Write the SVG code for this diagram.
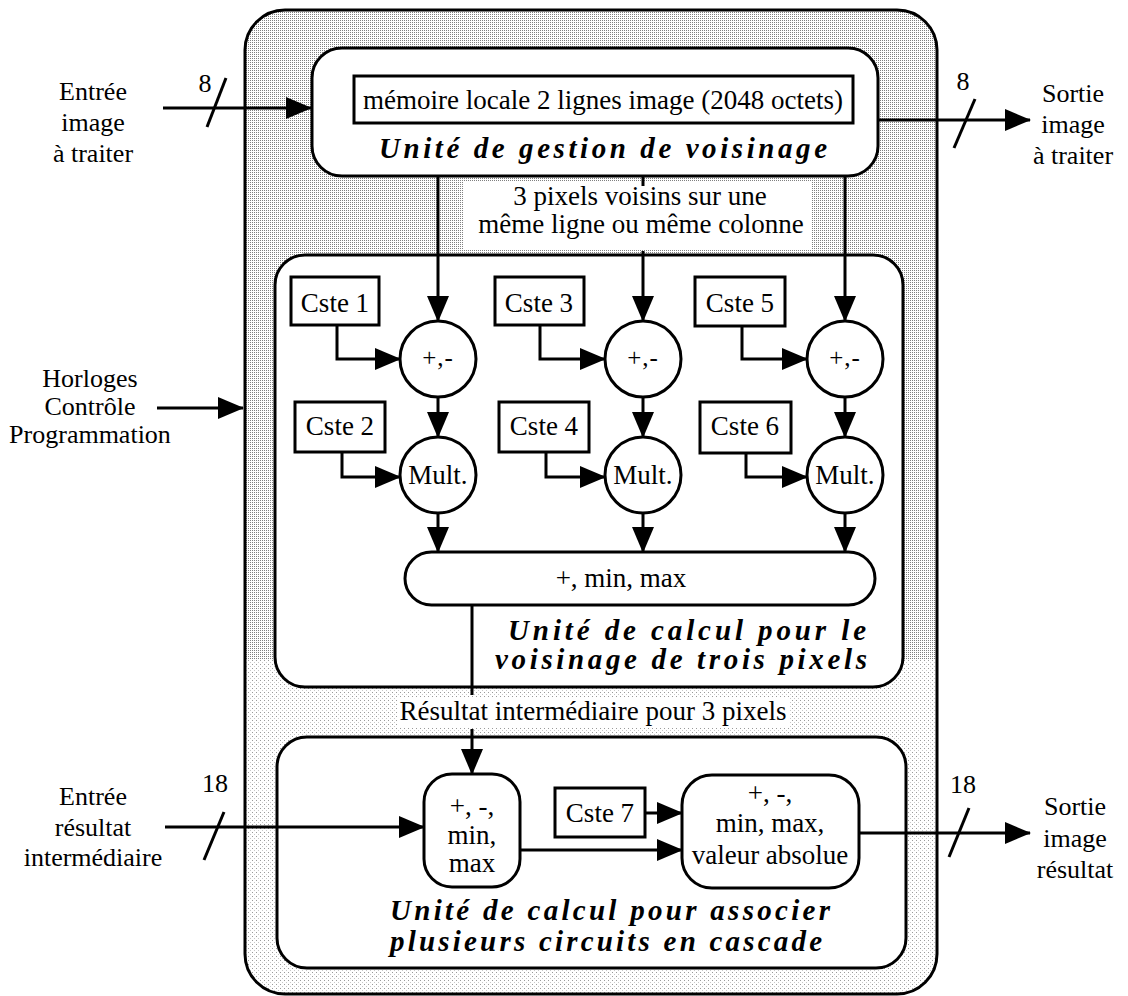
<svg xmlns="http://www.w3.org/2000/svg" width="1128" height="996" viewBox="0 0 1128 996">
<style>
  text { font-family: "Liberation Serif", "Times New Roman", serif; fill: #000; }
  .lbl { font-size: 26px; text-anchor: middle; }
  .body { font-size: 27px; text-anchor: middle; }
  .title { font-size: 29px; font-weight: bold; font-style: italic; }
  .box { fill: #fff; stroke: #000; stroke-width: 3; }
  .node { fill: #fff; stroke: #000; stroke-width: 3; }
  .wire { fill: none; stroke: #000; stroke-width: 3; }
  .arr { fill: none; stroke: #000; stroke-width: 3; marker-end: url(#ah); }
</style>
<defs>
  <marker id="ah" viewBox="0 0 26 22" markerUnits="userSpaceOnUse" markerWidth="26" markerHeight="22" refX="25" refY="11" orient="auto">
    <path d="M0,0 L26,11 L0,22 z" fill="#000"/>
  </marker>
  <pattern id="dense" width="2" height="2" patternUnits="userSpaceOnUse">
    <rect width="2" height="2" fill="#fff"/>
    <rect width="1" height="1" fill="#808080"/>
  </pattern>
  <pattern id="sparse" width="4" height="4" patternUnits="userSpaceOnUse">
    <rect width="4" height="4" fill="#fff"/>
    <rect width="1" height="1" fill="#9a9a9a"/>
    <rect x="2" y="2" width="1" height="1" fill="#c8c8c8"/>
  </pattern>
  <clipPath id="topclip"><rect x="0" y="0" width="1128" height="660"/></clipPath>
</defs>

<g id="outer">
  <rect x="245" y="10" width="692" height="984" rx="40" fill="url(#sparse)"/>
  <rect x="245" y="10" width="692" height="984" rx="40" fill="url(#dense)" clip-path="url(#topclip)"/>
  <rect x="245" y="10" width="692" height="984" rx="40" fill="none" stroke="#000" stroke-width="3"/>
</g>

<g id="unite-voisinage">
  <rect class="box" x="312" y="48" width="566" height="128" rx="30"/>
  <g id="memoire">
    <rect class="node" x="354" y="76" width="499" height="47"/>
    <text class="body" x="603" y="109">mémoire locale 2 lignes image (2048 octets)</text>
  </g>
  <text class="title" x="379" y="158" textLength="448" lengthAdjust="spacing">Unité de gestion de voisinage</text>
</g>

<rect x="464" y="182" width="348" height="68" fill="#fff"/>
<text class="body" x="640" y="205">3 pixels voisins sur une</text>
<text class="body" x="641" y="233">même ligne ou même colonne</text>

<g id="unite-trois-pixels">
  <rect class="box" x="275" y="255" width="628" height="432" rx="30"/>
  <text class="title" x="508" y="640" textLength="358" lengthAdjust="spacing">Unité de calcul pour le</text>
  <text class="title" x="495" y="669" textLength="372" lengthAdjust="spacing">voisinage de trois pixels</text>
</g>

<g id="cste1"><rect class="node" x="291" y="277" width="88" height="48"/><text class="body" x="335" y="312">Cste 1</text></g>
<g id="cste2"><rect class="node" x="295" y="402" width="90" height="50"/><text class="body" x="340" y="435">Cste 2</text></g>
<g id="cste3"><rect class="node" x="495" y="277" width="89" height="48"/><text class="body" x="539" y="312">Cste 3</text></g>
<g id="cste4"><rect class="node" x="499" y="402" width="90" height="50"/><text class="body" x="544" y="435">Cste 4</text></g>
<g id="cste5"><rect class="node" x="695" y="277" width="90" height="49"/><text class="body" x="740" y="312">Cste 5</text></g>
<g id="cste6"><rect class="node" x="700" y="402" width="91" height="51"/><text class="body" x="745" y="435">Cste 6</text></g>

<g id="addsub1"><circle class="node" cx="438" cy="359" r="38"/><text class="body" x="438" y="366" style="font-size:25px;letter-spacing:1px">+,-</text></g>
<g id="addsub2"><circle class="node" cx="643" cy="359" r="38"/><text class="body" x="643" y="366" style="font-size:25px;letter-spacing:1px">+,-</text></g>
<g id="addsub3"><circle class="node" cx="845" cy="359" r="38"/><text class="body" x="845" y="366" style="font-size:25px;letter-spacing:1px">+,-</text></g>
<g id="mult1"><circle class="node" cx="438" cy="475" r="38"/><text class="body" x="438" y="484">Mult.</text></g>
<g id="mult2"><circle class="node" cx="643" cy="475" r="38"/><text class="body" x="643" y="484">Mult.</text></g>
<g id="mult3"><circle class="node" cx="845" cy="475" r="38"/><text class="body" x="845" y="484">Mult.</text></g>

<g id="minmax-bar">
  <rect class="node" x="405" y="552" width="470" height="53" rx="26.5"/>
  <text class="body" x="621" y="587">+, min, max</text>
</g>

<rect x="398" y="698" width="392" height="30" fill="#fff"/>
<text class="body" x="593" y="720">Résultat intermédiaire pour 3 pixels</text>

<g id="unite-cascade">
  <rect class="box" x="277" y="737" width="629" height="231" rx="30"/>
  <text class="title" x="390" y="920" textLength="440" lengthAdjust="spacing">Unité de calcul pour associer</text>
  <text class="title" x="390" y="951" textLength="432" lengthAdjust="spacing">plusieurs circuits en cascade</text>
</g>

<g id="op-left">
  <rect class="node" x="424" y="774" width="96" height="113" rx="28"/>
  <text class="body" x="472" y="815">+, -,</text>
  <text class="body" x="472" y="844">min,</text>
  <text class="body" x="472" y="872">max</text>
</g>
<g id="cste7"><rect class="node" x="555" y="788" width="90" height="49"/><text class="body" x="600" y="822">Cste 7</text></g>
<g id="op-right">
  <rect class="node" x="682" y="775" width="177" height="113" rx="30"/>
  <text class="body" x="770" y="802">+, -,</text>
  <text class="body" x="770" y="832">min, max,</text>
  <text class="body" x="770" y="864">valeur absolue</text>
</g>

<g id="ext-labels">
  <text class="lbl" x="93" y="100">Entrée</text>
  <text class="lbl" x="93" y="131">image</text>
  <text class="lbl" x="93" y="162">à traiter</text>
  <text class="lbl" x="1073" y="102">Sortie</text>
  <text class="lbl" x="1073" y="133">image</text>
  <text class="lbl" x="1073" y="164">à traiter</text>
  <text class="lbl" x="90" y="387">Horloges</text>
  <text class="lbl" x="90" y="415">Contrôle</text>
  <text class="lbl" x="90" y="443">Programmation</text>
  <text class="lbl" x="93" y="805">Entrée</text>
  <text class="lbl" x="93" y="836">résultat</text>
  <text class="lbl" x="93" y="866">intermédiaire</text>
  <text class="lbl" x="1075" y="815">Sortie</text>
  <text class="lbl" x="1075" y="847">image</text>
  <text class="lbl" x="1075" y="878">résultat</text>
  <text class="lbl" x="205" y="92">8</text>
  <text class="lbl" x="963" y="90">8</text>
  <text class="lbl" x="215" y="792">18</text>
  <text class="lbl" x="963" y="793">18</text>
</g>

<g id="connectors">
  <path class="arr" d="M163,108 H311"/>
  <path class="wire" d="M207,127 L226,78"/>
  <path class="arr" d="M878,120 H1030"/>
  <path class="wire" d="M975,99 L954,148"/>
  <path class="arr" d="M157,408 H243"/>

  <path class="arr" d="M438,176 V321"/>
  <path class="wire" d="M643,176 V186"/>
  <path class="arr" d="M643,251 V321"/>
  <path class="arr" d="M845,176 V321"/>

  <path class="arr" d="M337,325 V359 H400"/>
  <path class="arr" d="M540,325 V359 H605"/>
  <path class="arr" d="M742,326 V359 H807"/>
  <path class="arr" d="M342,452 V477 H400"/>
  <path class="arr" d="M546,452 V477 H605"/>
  <path class="arr" d="M746,453 V477 H807"/>

  <path class="arr" d="M438,397 V437"/>
  <path class="arr" d="M643,397 V437"/>
  <path class="arr" d="M845,397 V437"/>
  <path class="arr" d="M438,513 V552"/>
  <path class="arr" d="M643,513 V552"/>
  <path class="arr" d="M845,513 V552"/>

  <path class="wire" d="M472,605 V695"/>
  <path class="arr" d="M472,729 V774"/>

  <path class="arr" d="M165,827 H424"/>
  <path class="wire" d="M224,812 L204,860"/>
  <path class="arr" d="M645,813 H682"/>
  <path class="arr" d="M520,850 H682"/>
  <path class="arr" d="M859,833 H1030"/>
  <path class="wire" d="M969,808 L949,857"/>
</g>
</svg>
